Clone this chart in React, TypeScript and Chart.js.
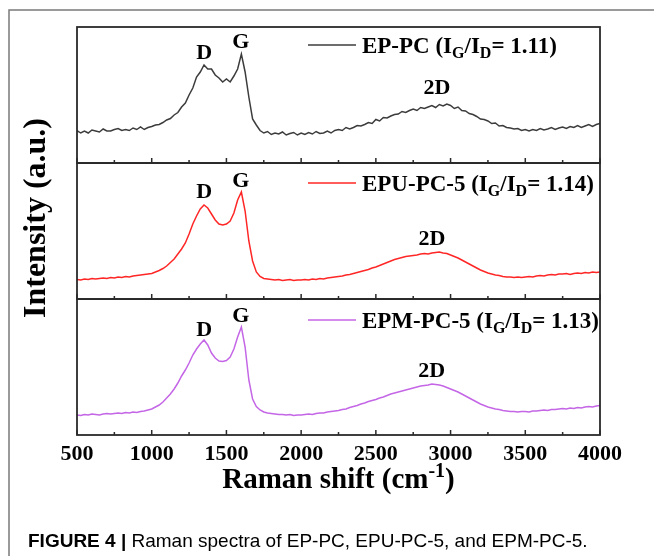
import React, { useEffect, useRef } from "react";
import { Chart, registerables } from "chart.js";

Chart.register(...registerables);

// Raman shift (cm^-1), sampled every 25 cm^-1
const ramanShift: number[] = [
  500, 525, 550, 575, 600, 625, 650, 675, 700, 725,
  750, 775, 800, 825, 850, 875, 900, 925, 950, 975,
  1000, 1025, 1050, 1075, 1100, 1125, 1150, 1175, 1200, 1225,
  1250, 1275, 1300, 1325, 1350, 1375, 1400, 1425, 1450, 1475,
  1500, 1525, 1550, 1575, 1600, 1625, 1650, 1675, 1700, 1725,
  1750, 1775, 1800, 1825, 1850, 1875, 1900, 1925, 1950, 1975,
  2000, 2025, 2050, 2075, 2100, 2125, 2150, 2175, 2200, 2225,
  2250, 2275, 2300, 2325, 2350, 2375, 2400, 2425, 2450, 2475,
  2500, 2525, 2550, 2575, 2600, 2625, 2650, 2675, 2700, 2725,
  2750, 2775, 2800, 2825, 2850, 2875, 2900, 2925, 2950, 2975,
  3000, 3025, 3050, 3075, 3100, 3125, 3150, 3175, 3200, 3225,
  3250, 3275, 3300, 3325, 3350, 3375, 3400, 3425, 3450, 3475,
  3500, 3525, 3550, 3575, 3600, 3625, 3650, 3675, 3700, 3725,
  3750, 3775, 3800, 3825, 3850, 3875, 3900, 3925, 3950, 3975,
  4000,
];

// Intensities (a.u., each panel on its own scale)
const epPc: number[] = [
  32.5, 30, 32, 30, 33, 32, 31, 34, 32, 32,
  33.5, 34.5, 32.5, 33.5, 32.5, 35, 33.5, 36, 33.5, 35.5,
  36.5, 38, 38.5, 40.5, 43, 44.5, 48, 50.5, 56, 60,
  68, 75, 86, 91, 98, 94, 94, 88, 85, 81,
  84, 81, 87, 94, 109, 91, 66, 44, 38, 32.5,
  30, 31.5, 28.5, 30, 29, 31, 28, 29.5, 30.5, 28,
  30, 28.5, 30.5, 29, 31.5, 29.5, 30, 32, 30, 32.5,
  33.5, 32.5, 35.5, 34, 35.5, 37.5, 37, 38.5, 40.5, 39.5,
  43.5, 42, 45.5, 45, 47, 48.5, 49, 51.5, 50.5, 52.5,
  54, 52.5, 55.5, 54.5, 56, 57.5, 55.5, 58.5, 57, 59,
  57.5, 54.5, 56, 52.5, 52, 49.5, 48.5, 46.5, 44, 43.5,
  42, 39.5, 40, 37, 37.5, 35.5, 35, 34, 34.5, 32.5,
  33.5, 32, 33.5, 32.5, 34.5, 33, 34, 35.5, 33.5, 35,
  36, 34.5, 36.5, 35.5, 37.5, 35.5, 37, 38.5, 36.5, 38.5,
  39.5,
];

const epuPc5: number[] = [
  19.5, 19, 20, 19.5, 20.5, 20, 20.5, 21, 20.5, 21.5,
  21, 22, 21.5, 22.5, 22, 23, 23.5, 24, 24.5, 25,
  25.5, 27, 28.5, 30.5, 33, 36.5, 40, 45, 50, 56,
  65, 75, 83, 90, 94, 91, 85, 79, 75, 74,
  75, 78, 86, 99, 107, 88, 58, 38, 27, 22.5,
  20.5, 20, 19.5, 19, 19.5, 18.5, 19, 19.5, 18.5, 19,
  19, 19.5, 19, 20, 19.5, 20.5, 20, 21, 21.5, 22,
  22.5, 23, 24, 24.5, 25.5, 26.5, 27.5, 28.5, 29.5, 31,
  32, 33.5, 35, 36.5, 38, 39.5, 40.5, 41.5, 42.5, 43,
  43.5, 44, 45, 45.5, 45, 46, 46.5, 47, 46, 45.5,
  44, 42.5, 41, 39, 37, 35, 33, 31, 29, 27.5,
  26, 25, 24, 23.5, 22.5, 22, 22, 21.5, 22, 21.5,
  22, 22.5, 22, 23, 23.5, 23, 24, 24.5, 24, 25,
  25, 25.5, 24.5, 25.5, 26, 25.5, 26.5, 26, 27, 26.5,
  27,
];

const epmPc5: number[] = [
  20, 19.5, 20.5, 20, 21, 20.5, 20, 21, 21.5, 21,
  21.5, 22, 21.5, 22.5, 22, 23, 22.5, 23.5, 24, 25,
  26, 28, 30, 33, 37, 41, 46, 52, 59, 65,
  72, 80, 86, 91, 95, 90, 82, 77, 74, 73.5,
  74.5, 78, 86, 98, 108, 88, 55, 36, 28.5, 25,
  23, 22, 21.5, 21, 20.5, 20.5, 20, 20.5, 19.5, 20,
  20, 20.5, 21, 20.5, 21.5, 22, 22, 23, 23.5, 24,
  24.5, 25.5, 26, 27.5, 28.5, 29.5, 31, 32, 33.5, 34.5,
  35.5, 37, 38, 39.5, 41, 42, 43, 44, 45, 46,
  47, 48, 49, 49.5, 50, 51, 50.5, 50, 49, 47.5,
  46, 44.5, 43, 41, 39, 37, 35, 33, 31, 29.5,
  28, 27, 26, 25.5, 24.5, 24, 23.5, 23.5, 23, 23.5,
  23.5, 23, 24, 24, 24.5, 25, 24.5, 25.5, 25.5, 26,
  26.5, 26, 27, 26.5, 27.5, 27, 28, 28.5, 28, 29,
  29.5,
];

const seriesNames: string[] = ["EP-PC", "EPU-PC-5", "EPM-PC-5"];
const ratioLabels: string[] = ["1.11", "1.14", "1.13"];
const seriesColors: string[] = ["#3c3c3c", "#ff2626", "#c466e6"];
const xTickLabels: number[] = [500, 1000, 1500, 2000, 2500, 3000, 3500, 4000];
const xMinorTicks: number[] = [750, 1250, 1750, 2250, 2750, 3250, 3750];
const peakNames: string[] = ["D", "G", "2D"];
// peak label anchors [shift, intensity] per panel (top, middle, bottom)
const peakAnchors: number[][][] = [
  [[1352, 110], [1597, 121], [2909, 75]],
  [[1352, 107], [1597, 118], [2876, 60]],
  [[1352, 105], [1597, 119], [2874, 64]],
];
const legendLevel: number[] = [118, 116, 115];

const SERIF = '"Liberation Serif", "Times New Roman", serif';
const SANS = '"Liberation Sans", Arial, sans-serif';

type Part = { t: string; sub?: boolean; sup?: boolean };

function drawParts(ctx: CanvasRenderingContext2D, parts: Part[], x: number, y: number, size: number, family: string, align: "left" | "center") {
  const small = Math.round(size * 0.68);
  let total = 0;
  for (const p of parts) {
    ctx.font = `bold ${p.sub || p.sup ? small : size}px ${family}`;
    total += ctx.measureText(p.t).width;
  }
  let cx = align === "center" ? x - total / 2 : x;
  ctx.textAlign = "left";
  ctx.textBaseline = "alphabetic";
  for (const p of parts) {
    ctx.font = `bold ${p.sub || p.sup ? small : size}px ${family}`;
    const dy = p.sub ? size * 0.22 : p.sup ? -size * 0.38 : 0;
    ctx.fillText(p.t, cx, y + dy);
    cx += ctx.measureText(p.t).width;
  }
}

const decorPlugin = {
  id: "decor",
  afterDraw(chart: any) {
    const ctx: CanvasRenderingContext2D = chart.ctx;
    const xs = chart.scales.x;
    const panels = [chart.scales.yEP, chart.scales.yEPU, chart.scales.yEPM];
    const left = xs.left;
    const right = xs.right;
    ctx.save();

    // outer figure frame
    ctx.strokeStyle = "#7a7a7a";
    ctx.lineWidth = 1.5;
    ctx.beginPath();
    ctx.moveTo(9, 556);
    ctx.lineTo(9, 10);
    ctx.lineTo(654, 10);
    ctx.stroke();

    panels.forEach((ys: any, i: number) => {
      // panel frame
      ctx.strokeStyle = "#2a2a2a";
      ctx.lineWidth = 1.8;
      ctx.strokeRect(left, ys.top, right - left, ys.bottom - ys.top);
      // inward ticks on the bottom edge
      ctx.lineWidth = 1.5;
      ctx.beginPath();
      xTickLabels.forEach((v) => {
        const px = xs.getPixelForValue(v);
        ctx.moveTo(px, ys.bottom);
        ctx.lineTo(px, ys.bottom - 5);
      });
      xMinorTicks.forEach((v) => {
        const px = xs.getPixelForValue(v);
        ctx.moveTo(px, ys.bottom);
        ctx.lineTo(px, ys.bottom - 3);
      });
      ctx.stroke();

      // peak labels
      ctx.fillStyle = "#000";
      ctx.font = `bold 22px ${SERIF}`;
      ctx.textAlign = "center";
      ctx.textBaseline = "middle";
      peakAnchors[i].forEach((a, k) => {
        ctx.fillText(peakNames[k], xs.getPixelForValue(a[0]), ys.getPixelForValue(a[1]));
      });

      // legend entry
      const ly = ys.getPixelForValue(legendLevel[i]);
      const lx0 = xs.getPixelForValue(2046);
      const lx1 = xs.getPixelForValue(2367);
      ctx.strokeStyle = seriesColors[i];
      ctx.lineWidth = 1.5;
      ctx.beginPath();
      ctx.moveTo(lx0, ly);
      ctx.lineTo(lx1, ly);
      ctx.stroke();
      ctx.fillStyle = "#000";
      drawParts(
        ctx,
        [
          { t: `${seriesNames[i]} (I` },
          { t: "G", sub: true },
          { t: "/I" },
          { t: "D", sub: true },
          { t: `= ${ratioLabels[i]})` },
        ],
        lx1 + 6,
        ly + 7.5,
        23,
        SERIF,
        "left"
      );
    });

    // axis titles
    ctx.fillStyle = "#000";
    ctx.save();
    ctx.translate(37, 218);
    ctx.rotate(-Math.PI / 2);
    ctx.font = `bold 32px ${SERIF}`;
    ctx.textAlign = "center";
    ctx.textBaseline = "middle";
    ctx.fillText("Intensity (a.u.)", 0, 0);
    ctx.restore();

    drawParts(
      ctx,
      [{ t: "Raman shift (cm" }, { t: "-1", sup: true }, { t: ")" }],
      (left + right) / 2,
      488,
      29,
      SERIF,
      "center"
    );

    // caption
    ctx.textAlign = "left";
    ctx.textBaseline = "alphabetic";
    ctx.font = `bold 19px ${SANS}`;
    const cap1 = "FIGURE 4 | ";
    ctx.fillText(cap1, 28, 547);
    const w1 = ctx.measureText(cap1).width;
    ctx.font = `19px ${SANS}`;
    ctx.fillText("Raman spectra of EP-PC, EPU-PC-5, and EPM-PC-5.", 28 + w1, 547);

    ctx.restore();
  },
};

const hiddenY = () => ({
  stack: "panels",
  position: "left",
  min: 0,
  max: 136,
  ticks: { display: false },
  grid: { display: false, drawTicks: false },
  border: { display: false },
  afterFit: (s: any) => {
    s.width = 0;
  },
});

export default function App() {
  const ref = useRef<HTMLCanvasElement | null>(null);

  useEffect(() => {
    if (!ref.current) return;
    const mk = (vals: number[]) => vals.map((y, i) => ({ x: ramanShift[i], y }));
    const chart = new Chart(ref.current, {
      type: "line",
      data: {
        datasets: [
          { label: seriesNames[0], data: mk(epPc), yAxisID: "yEP", borderColor: seriesColors[0], borderWidth: 1.5, pointRadius: 0, tension: 0 },
          { label: seriesNames[1], data: mk(epuPc5), yAxisID: "yEPU", borderColor: seriesColors[1], borderWidth: 1.5, pointRadius: 0, tension: 0 },
          { label: seriesNames[2], data: mk(epmPc5), yAxisID: "yEPM", borderColor: seriesColors[2], borderWidth: 1.5, pointRadius: 0, tension: 0 },
        ],
      },
      options: {
        responsive: false,
        animation: false,
        devicePixelRatio: 1,
        layout: { padding: { left: 77, right: 54, top: 27, bottom: 91 } },
        plugins: { legend: { display: false }, tooltip: { enabled: false } },
        scales: {
          x: {
            type: "linear",
            min: 500,
            max: 4000,
            grid: { display: false, drawTicks: false },
            border: { display: false },
            ticks: {
              stepSize: 500,
              autoSkip: false,
              maxRotation: 0,
              padding: 6,
              color: "#000",
              font: { family: SERIF, size: 22, weight: "bold" },
              callback: (v: any) => String(v),
            },
            afterFit: (s: any) => {
              s.height = 30;
            },
          },
          yEPM: hiddenY(),
          yEPU: hiddenY(),
          yEP: hiddenY(),
        } as any,
      },
      plugins: [decorPlugin],
    } as any);
    return () => chart.destroy();
  }, []);

  return (
    <canvas
      ref={ref}
      width={654}
      height={556}
      style={{ position: "absolute", left: 0, top: 0, width: 654, height: 556 }}
    />
  );
}
